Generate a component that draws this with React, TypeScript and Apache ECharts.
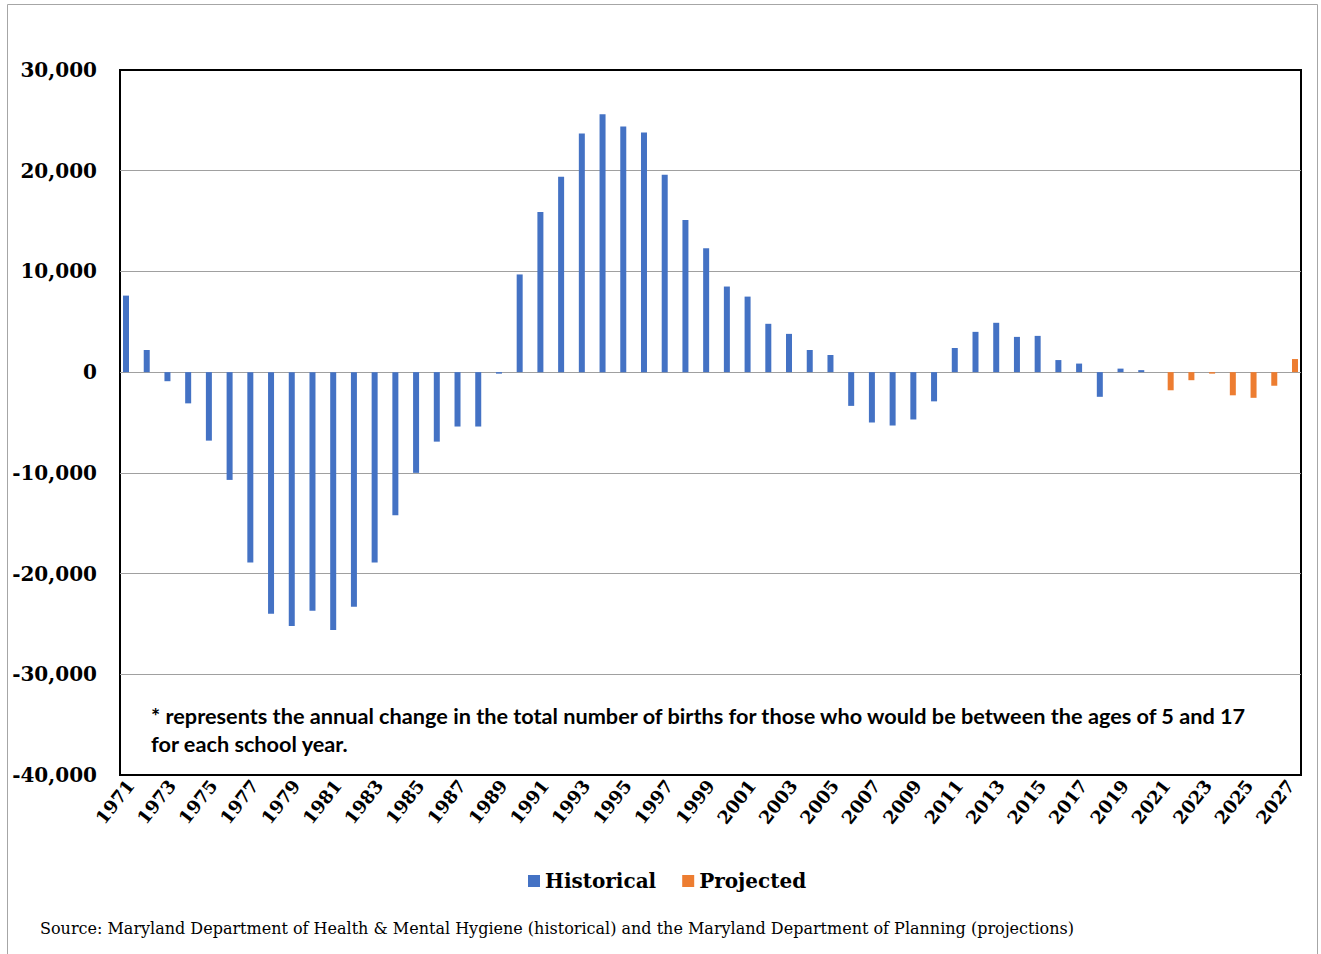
import React, { useEffect, useRef } from "react";
import * as echarts from "echarts";

const years = [
  "1971", "1972", "1973", "1974", "1975", "1976", "1977", "1978", "1979", "1980",
  "1981", "1982", "1983", "1984", "1985", "1986", "1987", "1988", "1989", "1990",
  "1991", "1992", "1993", "1994", "1995", "1996", "1997", "1998", "1999", "2000",
  "2001", "2002", "2003", "2004", "2005", "2006", "2007", "2008", "2009", "2010",
  "2011", "2012", "2013", "2014", "2015", "2016", "2017", "2018", "2019", "2020",
  "2021", "2022", "2023", "2024", "2025", "2026", "2027",
];

// 1971 - 2020
const historical = [
  7600, 2200, -900, -3100, -6800, -10700, -18900, -24000, -25200, -23700,
  -25600, -23300, -18900, -14200, -10000, -6900, -5400, -5400, -150, 9700,
  15900, 19400, 23700, 25600, 24400, 23800, 19600, 15100, 12300, 8500,
  7500, 4800, 3800, 2200, 1700, -3350, -5000, -5300, -4700, -2900,
  2400, 4000, 4900, 3500, 3600, 1200, 850, -2450, 350, 200,
];

// 2021 - 2027
const projected = [-1800, -800, -150, -2300, -2550, -1350, 1300];

const yTicks = [-40000, -30000, -20000, -10000, 0, 10000, 20000, 30000];

const noteLines = [
  "* represents the annual change in the total number of births for those who would be between the ages of 5 and 17",
  "for each school year.",
];
const sourceText =
  "Source: Maryland Department of Health & Mental Hygiene (historical) and the Maryland Department of Planning (projections)";

export default function App() {
  const ref = useRef<HTMLDivElement>(null);

  useEffect(() => {
    document.body.style.margin = "0";
    if (!ref.current) return;
    const chart = echarts.init(ref.current, null, { renderer: "svg" });

    const nHist = historical.length;
    const histData = years.map((_, i) => (i < nHist ? historical[i] : null));
    const projData = years.map((_, i) => (i >= nHist ? projected[i - nHist] : null));

    const serif = "DejaVu Serif";

    chart.setOption({
      animation: false,
      backgroundColor: "#ffffff",
      grid: {
        left: 120,
        right: 20,
        top: 70,
        bottom: 179,
        show: true,
        borderColor: "#000000",
        borderWidth: 2,
        backgroundColor: "transparent",
      },
      legend: {
        left: 523,
        top: 866,
        itemWidth: 12,
        itemHeight: 12,
        itemGap: 26,
        icon: "rect",
        textStyle: {
          fontFamily: serif,
          fontWeight: "bold",
          fontSize: 20,
          color: "#000000",
        },
        data: ["Historical", "Projected"],
      },
      xAxis: {
        type: "category",
        data: years,
        axisLine: { show: false, onZero: false },
        axisTick: { show: false },
        splitLine: { show: false },
        axisLabel: {
          interval: 1,
          rotate: 52,
          margin: 7,
          fontFamily: serif,
          fontWeight: "bold",
          fontSize: 18,
          color: "#000000",
        },
      },
      yAxis: {
        type: "value",
        min: yTicks[0],
        max: yTicks[yTicks.length - 1],
        interval: 10000,
        axisLine: { show: false },
        axisTick: { show: false },
        splitLine: {
          show: true,
          showMinLine: false,
          showMaxLine: false,
          lineStyle: { color: "#a0a0a0", width: 1 },
        },
        axisLabel: {
          margin: 23,
          fontFamily: serif,
          fontWeight: "bold",
          fontSize: 20,
          color: "#000000",
          formatter: (v: number) => v.toLocaleString("en-US"),
        },
      },
      series: [
        {
          name: "Historical",
          type: "bar",
          data: histData,
          barWidth: 6,
          barGap: "45%",
          itemStyle: { color: "#4472C4" },
        },
        {
          name: "Projected",
          type: "bar",
          data: projData,
          barWidth: 6,
          barGap: "45%",
          itemStyle: { color: "#ED7D31" },
        },
      ],
      graphic: [
        {
          type: "rect",
          silent: true,
          z: -10,
          shape: { x: 7.5, y: 4.5, width: 1310, height: 970 },
          style: { fill: "none", stroke: "#a6a6a6", lineWidth: 1 },
        },
        {
          type: "text",
          left: 151,
          top: 702,
          style: {
            text: noteLines.join("\n"),
            fontFamily: "Lato",
            fontWeight: "bold",
            fontSize: 21.7,
            lineHeight: 28,
            fill: "#000000",
          },
        },
        {
          type: "text",
          left: 40,
          top: 920,
          style: {
            text: sourceText,
            fontFamily: serif,
            fontSize: 16,
            fill: "#000000",
          },
        },
      ],
    });

    return () => chart.dispose();
  }, []);

  return <div ref={ref} style={{ width: 1321, height: 954 }} />;
}
